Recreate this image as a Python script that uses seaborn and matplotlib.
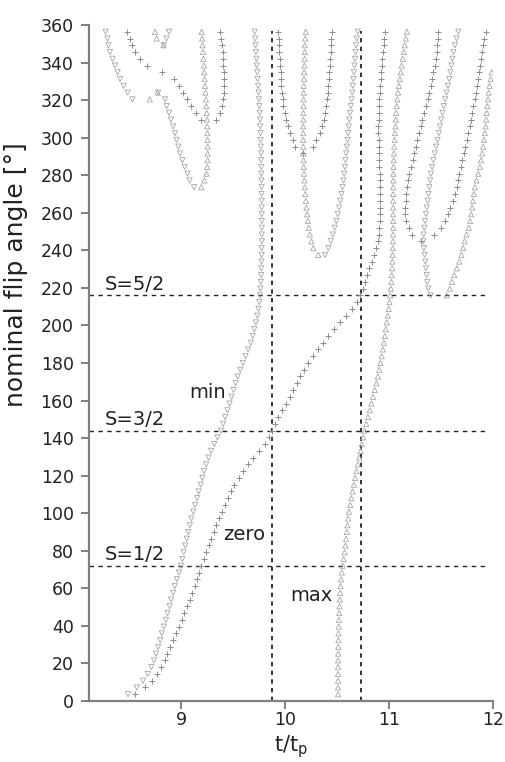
import matplotlib
matplotlib.use("Agg")
import matplotlib.pyplot as plt
import numpy as np
import pandas as pd
import seaborn as sns

# ---------------- data ----------------
# sampled nominal flip angles (degrees)
ANGLES = [3.6, 7.2, 10.8, 14.4, 18.0, 21.6, 25.2, 28.8, 32.4, 36.0, 39.6, 43.2,
          46.8, 50.4, 54.0, 57.6, 61.2, 64.8, 68.4, 72.0, 75.6, 79.2, 82.8, 86.4,
          90.0, 93.6, 97.2, 100.8, 104.4, 108.0, 111.6, 115.2, 118.8, 122.4, 126.0,
          129.6, 133.2, 136.8, 140.4, 144.0, 147.6, 151.2, 154.8, 158.4, 162.0,
          165.6, 169.2, 172.8, 176.4, 180.0, 183.6, 187.2, 190.8, 194.4, 198.0,
          201.6, 205.2, 208.8, 212.4, 216.0, 219.6, 223.2, 226.8, 230.4, 234.0,
          237.6, 241.2, 244.8, 248.4, 252.0, 255.6, 259.2, 262.8, 266.4, 270.0,
          273.6, 277.2, 280.8, 284.4, 288.0, 291.6, 295.2, 298.8, 302.4, 306.0,
          309.6, 313.2, 316.8, 320.4, 324.0, 327.6, 331.2, 334.8, 338.4, 342.0,
          345.6, 349.2, 352.8, 356.4]

# ---- minima (down triangles): (first angle, t/tp values in increasing angle)
min_main_start = 3.6
min_main = [8.49, 8.575, 8.635, 8.68, 8.715, 8.74, 8.76, 8.78, 8.80, 8.815,
            8.835, 8.855, 8.87, 8.89, 8.905, 8.925, 8.94, 8.96, 8.98, 9.0,
            9.013, 9.026, 9.04, 9.055, 9.07, 9.085, 9.10, 9.118, 9.135, 9.155,
            9.17, 9.19, 9.205, 9.222, 9.242, 9.265, 9.29, 9.32, 9.35, 9.385,
            9.405, 9.425, 9.447, 9.467, 9.486, 9.505, 9.525, 9.545, 9.57, 9.595,
            9.62, 9.645, 9.67, 9.69, 9.705, 9.72, 9.735, 9.745, 9.752, 9.758,
            9.763, 9.767, 9.77, 9.772, 9.774, 9.775, 9.776, 9.777, 9.777, 9.777,
            9.777, 9.777, 9.776, 9.776, 9.775, 9.775, 9.774, 9.773, 9.772, 9.771,
            9.770, 9.768, 9.766, 9.764, 9.762, 9.76, 9.757, 9.753, 9.749, 9.745,
            9.741, 9.737, 9.733, 9.729, 9.725, 9.72, 9.716, 9.712, 9.708]
min_tl_start = 320.4
min_tl = [8.533, 8.488, 8.447, 8.414, 8.391, 8.365, 8.341, 8.317, 8.302, 8.293, 8.275]
min_loop_start = 349.2
min_loop = [8.835, 8.86, 8.885]
min_vl_start = 273.6
min_vl = [9.125, 9.083, 9.062, 9.035, 9.014, 8.99, 8.974, 8.958, 8.942, 8.925,
          8.903, 8.885, 8.862, 8.846, 8.78]
min_mid_start = 237.6
min_mid = [10.385, 10.416, 10.44, 10.46, 10.478, 10.494, 10.508, 10.521, 10.532,
           10.543, 10.553, 10.562, 10.569, 10.576, 10.582, 10.588, 10.595, 10.601,
           10.607, 10.613, 10.619, 10.626, 10.633, 10.64, 10.646, 10.652, 10.657,
           10.663, 10.668, 10.673, 10.678, 10.684, 10.691, 10.70]
min_r_start = 216.0
min_r = [11.40, 11.378, 11.368, 11.362, 11.356, 11.35, 11.343, 11.335, 11.33, 11.333,
         11.34, 11.347, 11.355, 11.363, 11.372, 11.38, 11.388, 11.396, 11.404, 11.415,
         11.427, 11.44, 11.454, 11.467, 11.479, 11.49, 11.502, 11.514, 11.527, 11.54,
         11.553, 11.567, 11.58, 11.59, 11.6, 11.61, 11.62, 11.635, 11.65, 11.666]

# ---- zeros (plus signs)
zero_main_start = 3.6
zero_main = [8.56, 8.655, 8.725, 8.765, 8.805, 8.843, 8.87, 8.897, 8.924, 8.95,
             8.978, 9.006, 9.033, 9.06, 9.087, 9.11, 9.132, 9.153, 9.172, 9.193,
             9.218, 9.242, 9.266, 9.29, 9.314, 9.34, 9.367, 9.396, 9.424, 9.45,
             9.478, 9.514, 9.553, 9.595, 9.645, 9.697, 9.75, 9.805, 9.848, 9.877,
             9.90, 9.935, 9.972, 10.01, 10.047, 10.08, 10.112, 10.147, 10.185, 10.222,
             10.268, 10.316, 10.365, 10.415, 10.467, 10.525, 10.59, 10.645, 10.688, 10.722,
             10.748, 10.77, 10.79, 10.812, 10.835, 10.86, 10.878, 10.89, 10.9, 10.906,
             10.91, 10.913, 10.914, 10.914, 10.914, 10.913, 10.912, 10.91, 10.908, 10.905,
             10.903, 10.901, 10.9, 10.899, 10.899, 10.9, 10.902, 10.905, 10.908, 10.912,
             10.916, 10.92, 10.925, 10.93, 10.936, 10.942, 10.948, 10.954, 10.96]
zero_la_start = 309.6
zero_la = [9.195, 9.145, 9.10, 9.06, 9.02, 8.985, 8.935, 8.814, 8.67, 8.605,
           8.562, 8.53, 8.505, 8.477]
zero_lb_start = 309.6
zero_lb = [9.34, 9.374, 9.39, 9.405, 9.41, 9.412, 9.412, 9.41, 9.408, 9.404,
           9.4, 9.393, 9.385, 9.376]
zero_ma_start = 291.6
zero_ma = [10.175, 10.095, 10.078, 10.047, 10.025, 10.008, 9.996, 9.984, 9.976, 9.97,
           9.966, 9.961, 9.957, 9.953, 9.949, 9.945, 9.942, 9.939, 9.935]
zero_mb_start = 295.2
zero_mb = [10.27, 10.30, 10.332, 10.355, 10.372, 10.385, 10.396, 10.403, 10.409,
           10.414, 10.419, 10.424, 10.43, 10.435, 10.44, 10.443, 10.446, 10.449]
zero_ra_start = 244.8
zero_ra = [11.31, 11.22, 11.188, 11.168, 11.158, 11.155, 11.16, 11.167, 11.175, 11.185,
           11.197, 11.212, 11.228, 11.243, 11.258, 11.273, 11.29, 11.305, 11.322, 11.34,
           11.357, 11.373, 11.388, 11.402, 11.415, 11.428, 11.44, 11.45, 11.458, 11.464,
           11.47, 11.475]
zero_rb_start = 248.4
zero_rb = [11.43, 11.50, 11.54, 11.568, 11.59, 11.612, 11.633, 11.65, 11.663, 11.676,
           11.69, 11.705, 11.72, 11.735, 11.749, 11.762, 11.775, 11.788, 11.80, 11.812,
           11.824, 11.837, 11.848, 11.858, 11.868, 11.876, 11.884, 11.891, 11.905, 11.918,
           11.932]

# ---- maxima (up triangles)
max_main_start = 3.6
max_main = [10.51, 10.51, 10.51, 10.51, 10.51, 10.51, 10.511, 10.512, 10.513, 10.514,
            10.516, 10.518, 10.521, 10.524, 10.528, 10.531, 10.534, 10.539, 10.546, 10.555,
            10.564, 10.573, 10.581, 10.588, 10.594, 10.6, 10.606, 10.615, 10.627, 10.638,
            10.65, 10.662, 10.674, 10.687, 10.7, 10.713, 10.726, 10.738, 10.751, 10.765,
            10.781, 10.798, 10.815, 10.831, 10.847, 10.863, 10.879, 10.893, 10.906, 10.918,
            10.93, 10.941, 10.951, 10.961, 10.97, 10.979, 10.988, 10.997, 11.005, 11.012,
            11.018, 11.023, 11.027, 11.03, 11.033, 11.035, 11.037, 11.038, 11.039, 11.04,
            11.04, 11.04, 11.04, 11.04, 11.04, 11.04, 11.041, 11.042, 11.043, 11.045,
            11.047, 11.05, 11.054, 11.058, 11.062, 11.066, 11.07, 11.075, 11.08, 11.087,
            11.095, 11.104, 11.113, 11.122, 11.132, 11.142, 11.152, 11.162, 11.172]
max_loop_start = 349.2
max_loop = [8.83, 8.765, 8.75]
max_small_start = 320.4
max_small = [8.70, 8.775]
max_vl_start = 273.6
max_vl = [9.195, 9.225, 9.245, 9.252, 9.255, 9.256, 9.256, 9.255, 9.254, 9.252,
          9.25, 9.247, 9.243, 9.239, 9.235, 9.231, 9.227, 9.223, 9.219, 9.215,
          9.211, 9.207, 9.203, 9.199]
max_mid_start = 237.6
max_mid = [10.32, 10.272, 10.254, 10.24, 10.229, 10.22, 10.213, 10.206, 10.2, 10.195,
           10.19, 10.186, 10.183, 10.18, 10.178, 10.176, 10.175, 10.175, 10.175, 10.175,
           10.176, 10.177, 10.178, 10.179, 10.18, 10.181, 10.183, 10.184, 10.186, 10.188,
           10.19, 10.19, 10.195, 10.2]
max_r_start = 216.0
max_r = [11.554, 11.585, 11.607, 11.627, 11.652, 11.677, 11.697, 11.713, 11.727, 11.745,
         11.767, 11.78, 11.79, 11.80, 11.808, 11.816, 11.826, 11.842, 11.858, 11.874,
         11.886, 11.896, 11.906, 11.914, 11.922, 11.93, 11.935, 11.94, 11.945, 11.952,
         11.959, 11.967, 11.977, 11.987]

# reference lines and labels
S_levels = [72, 144, 216]
S_labels = ["S=1/2", "S=3/2", "S=5/2"]
zero_cross = [9.877, 10.73]
curve_labels = ["min", "zero", "max"]
curve_label_pos = [(9.254, 164.3), (9.605, 88.9), (10.256, 56.4)]


def branch(start, xs):
    i0 = int(np.argmin(np.abs(np.asarray(ANGLES) - start)))
    return pd.DataFrame({"t": xs, "angle": ANGLES[i0:i0 + len(xs)]})


mins = pd.concat([branch(min_main_start, min_main), branch(min_tl_start, min_tl),
                  branch(min_loop_start, min_loop), branch(min_vl_start, min_vl),
                  branch(min_mid_start, min_mid), branch(min_r_start, min_r)])
zeros = pd.concat([branch(zero_main_start, zero_main), branch(zero_la_start, zero_la),
                   branch(zero_lb_start, zero_lb), branch(zero_ma_start, zero_ma),
                   branch(zero_mb_start, zero_mb), branch(zero_ra_start, zero_ra),
                   branch(zero_rb_start, zero_rb)])
maxs = pd.concat([branch(max_main_start, max_main), branch(max_loop_start, max_loop),
                  branch(max_small_start, max_small), branch(max_vl_start, max_vl),
                  branch(max_mid_start, max_mid), branch(max_r_start, max_r)])

# ---------------- drawing ----------------
sns.set_style("ticks")
plt.rcParams["font.family"] = ["DejaVu Sans"]

fig = plt.figure(figsize=(5.05, 7.62), dpi=100)
ax = fig.add_axes([0.1762, 0.0801, 0.800, 0.8871])

tri_col = "#a6a6a6"
plus_col = "#8c8c8c"
sns.scatterplot(data=mins, x="t", y="angle", marker="v", s=14, facecolor="none",
                edgecolor=tri_col, linewidth=0.6, ax=ax, zorder=3)
sns.scatterplot(data=maxs, x="t", y="angle", marker="^", s=14, facecolor="none",
                edgecolor=tri_col, linewidth=0.6, ax=ax, zorder=3)
sns.scatterplot(data=zeros, x="t", y="angle", marker="+", s=16, color=plus_col,
                linewidth=0.7, ax=ax, zorder=3)

for lev, lab in zip(S_levels, S_labels):
    ax.axhline(lev, xmin=0, xmax=0.99, color="#222222", lw=1.0,
               linestyle=(0, (3.2, 3.2)), zorder=2)
    ax.text(8.27, lev + 6, lab, ha="left", va="center", fontsize=14, color="#222222")
for xc in zero_cross:
    ax.vlines(xc, 0, 357, color="#111111", lw=1.2, linestyles=(0, (2.6, 2.6)), zorder=2)

for lab, (lx, ly) in zip(curve_labels, curve_label_pos):
    ax.text(lx, ly, lab, ha="center", va="center", fontsize=14, color="#222222")

ax.set_xlim(8.115, 12)
ax.set_ylim(0, 360)
ax.set_xticks([9, 10, 11, 12])
ax.set_yticks(np.arange(0, 361, 20))
sns.despine(ax=ax)
for sp in ["left", "bottom"]:
    ax.spines[sp].set_color("#808080")
    ax.spines[sp].set_linewidth(1.6)
ax.tick_params(axis="both", direction="out", length=6, width=1.4, color="#808080",
               labelsize=12.5, labelcolor="#222222")
ax.tick_params(axis="x", pad=1.5)
ax.tick_params(axis="y", pad=5)
ax.set_xlabel("t/t$_\\mathregular{p}$", fontsize=15, color="#222222")
ax.set_ylabel("nominal flip angle [°]", fontsize=18, color="#222222")
ax.xaxis.set_label_coords(0.5, -0.047)
ax.yaxis.set_label_coords(-0.150, 0.63)

fig.savefig("out.png", dpi=100)
